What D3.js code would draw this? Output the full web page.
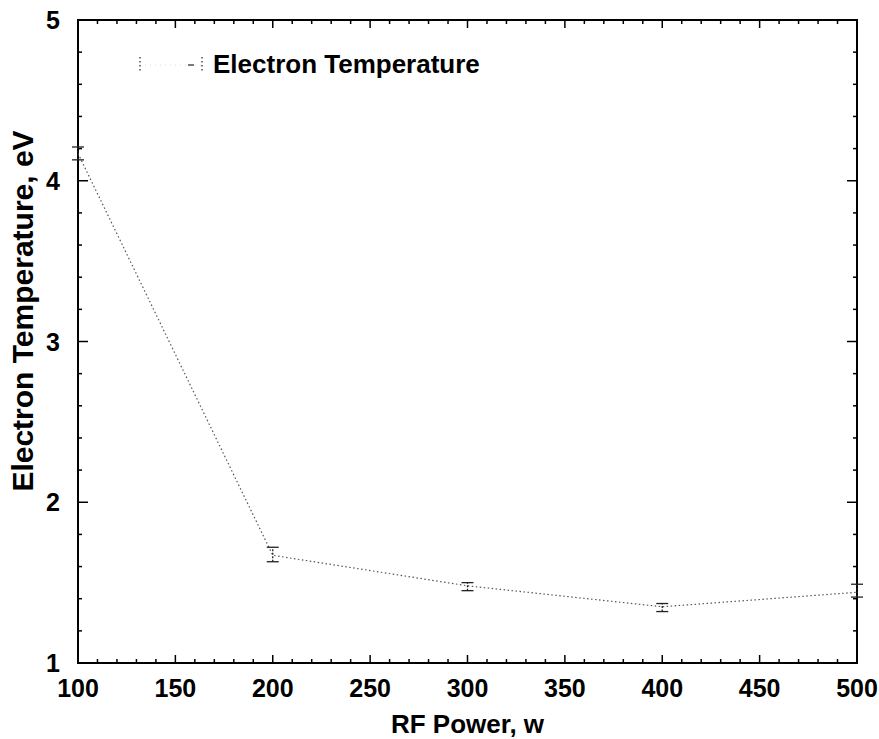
<!DOCTYPE html>
<html>
<head>
<meta charset="utf-8">
<script src="https://cdn.jsdelivr.net/npm/d3@7"></script>
<style>
  body { margin: 0; background: #fff; }
  svg { display: block; }
  text { font-family: "Liberation Sans", Arial, Helvetica, sans-serif; font-weight: bold; fill: #000; }
</style>
</head>
<body>
<svg id="chart" width="879" height="739"></svg>
<script>
// ---- data ----
const rfPower = [100, 200, 300, 400, 500];
const electronTemp = [4.17, 1.67, 1.48, 1.35, 1.44];
const errLow = [4.13, 1.63, 1.45, 1.32, 1.41];
const errHigh = [4.21, 1.72, 1.50, 1.37, 1.49];
const xTicks = [100, 150, 200, 250, 300, 350, 400, 450, 500];
const yTicks = [1, 2, 3, 4, 5];
const seriesName = "Electron Temperature";
const xLabel = "RF Power, w";
const yLabel = "Electron Temperature, eV";

const W = 879, H = 739;
const m = { left: 78, right: 22, top: 20, bottom: 76 };
const svg = d3.select("#chart");
const x = d3.scaleLinear().domain([100, 500]).range([m.left, W - m.right]);
const y = d3.scaleLinear().domain([1, 5]).range([H - m.bottom, m.top]);

const g = svg.append("g");

// minor and major ticks (inward, all four sides)
const xMinor = d3.range(100, 501, 10);
const yMinor = d3.range(1, 5.001, 0.2);
const tickG = g.append("g").attr("stroke", "#000").attr("stroke-width", 1.5);
xMinor.forEach(v => {
  const major = Math.abs(v % 50) < 1e-6;
  const L = major ? 8 : 4;
  tickG.append("line").attr("x1", x(v)).attr("x2", x(v)).attr("y1", y(1)).attr("y2", y(1) - L);
  tickG.append("line").attr("x1", x(v)).attr("x2", x(v)).attr("y1", y(5)).attr("y2", y(5) + L);
});
yMinor.forEach(v => {
  const major = Math.abs(v - Math.round(v)) < 1e-6;
  const L = major ? 10 : 4;
  tickG.append("line").attr("y1", y(v)).attr("y2", y(v)).attr("x1", x(100)).attr("x2", x(100) + L);
  tickG.append("line").attr("y1", y(v)).attr("y2", y(v)).attr("x1", x(500)).attr("x2", x(500) - L);
});

// frame
g.append("rect")
  .attr("x", x(100)).attr("y", y(5))
  .attr("width", x(500) - x(100)).attr("height", y(1) - y(5))
  .attr("fill", "none").attr("stroke", "#000").attr("stroke-width", 2);

// tick labels
g.selectAll("text.xt").data(xTicks).enter().append("text")
  .attr("class", "xt")
  .attr("x", d => x(d)).attr("y", 697)
  .attr("text-anchor", "middle").attr("font-size", 25)
  .text(d => d);
g.selectAll("text.yt").data(yTicks).enter().append("text")
  .attr("class", "yt")
  .attr("x", 60).attr("y", d => y(d) + 9)
  .attr("text-anchor", "end").attr("font-size", 25)
  .text(d => d);

// axis titles
g.append("text").attr("x", (x(100) + x(500)) / 2).attr("y", 733)
  .attr("text-anchor", "middle").attr("font-size", 26).text(xLabel);
g.append("text")
  .attr("transform", `translate(33, 311) rotate(-90)`)
  .attr("text-anchor", "middle").attr("font-size", 30).text(yLabel);

// data line
const line = d3.line().x((d, i) => x(rfPower[i])).y(d => y(d));
g.append("path").datum(electronTemp)
  .attr("d", line)
  .attr("fill", "none").attr("stroke", "#555").attr("stroke-width", 1.2)
  .attr("stroke-dasharray", "1.5,2.5");

// error bars
const eb = g.append("g").attr("stroke", "#222").attr("stroke-width", 1.3);
rfPower.forEach((p, i) => {
  const cx = x(p);
  eb.append("line").attr("x1", cx).attr("x2", cx).attr("y1", y(errLow[i])).attr("y2", y(errHigh[i]))
    .attr("stroke-dasharray", "2,1.5");
  eb.append("line").attr("x1", cx - 6).attr("x2", cx + 6).attr("y1", y(errLow[i])).attr("y2", y(errLow[i]));
  eb.append("line").attr("x1", cx - 6).attr("x2", cx + 6).attr("y1", y(errHigh[i])).attr("y2", y(errHigh[i]));
});

// legend
const lg = g.append("g");
lg.append("line").attr("x1", 140).attr("x2", 202).attr("y1", 65).attr("y2", 65)
  .attr("stroke", "#ddd").attr("stroke-width", 1).attr("stroke-dasharray", "1,4");
[140, 202].forEach(lx => {
  lg.append("line").attr("x1", lx).attr("x2", lx).attr("y1", 57).attr("y2", 73)
    .attr("stroke", "#333").attr("stroke-width", 1.3).attr("stroke-dasharray", "1.5,2.5");
});
lg.append("line").attr("x1", 188).attr("x2", 194).attr("y1", 65).attr("y2", 65)
  .attr("stroke", "#333").attr("stroke-width", 1.3);
lg.append("text").attr("x", 213).attr("y", 73).attr("font-size", 26).text(seriesName);
</script>
</body>
</html>
